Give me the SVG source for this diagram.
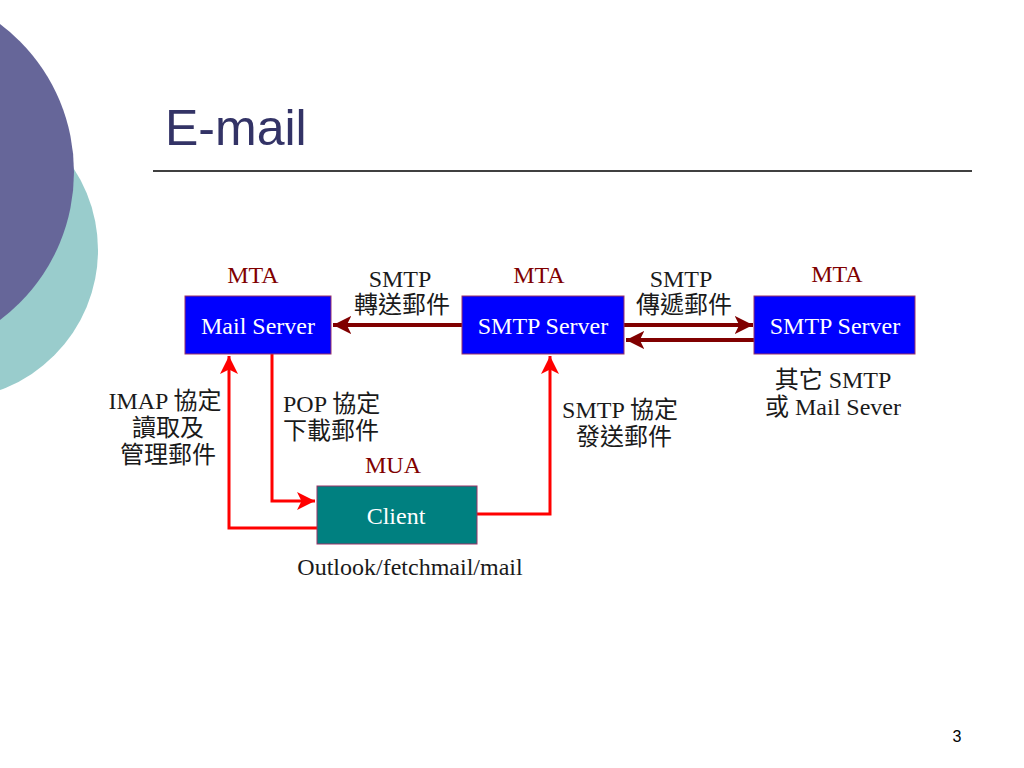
<svg xmlns="http://www.w3.org/2000/svg" width="1024" height="768" viewBox="0 0 1024 768">
<defs>
<style>
.t{font-family:"Liberation Serif","Noto Sans CJK TC",serif;font-size:24px;fill:#1a1a1a}
.c{text-anchor:middle}
.w{fill:#ffffff}
.mta{fill:#800000}
.box{stroke:#993366;stroke-width:1}
.dr{stroke:#800000;stroke-width:4;fill:none}
.rd{stroke:#ff0000;stroke-width:3;fill:none}
</style>
<marker id="ad" viewBox="0 0 10 10" refX="10" refY="5" markerWidth="4.6" markerHeight="4.6" orient="auto" markerUnits="strokeWidth">
<path d="M0,0 L10,5 L0,10 L2.5,5 Z" fill="#800000"/>
</marker>
<marker id="ar" viewBox="0 0 10 10" refX="10" refY="5" markerWidth="6" markerHeight="6" orient="auto" markerUnits="strokeWidth">
<path d="M0,0 L10,5 L0,10 L2.5,5 Z" fill="#ff0000"/>
</marker>
</defs>
<rect width="1024" height="768" fill="#ffffff"/>
<g id="decor">
<circle cx="-51" cy="250" r="149" fill="#99cccc"/>
<circle cx="-111" cy="172" r="185" fill="#666699"/>
</g>
<g id="title">
<text x="165" y="145" font-family="'Liberation Sans',Arial,sans-serif" font-size="50" fill="#333366">E-mail</text>
<line x1="153" y1="171" x2="972" y2="171" stroke="#000" stroke-width="1.5"/>
</g>
<g id="connectors">
<line class="dr" x1="462" y1="325" x2="333" y2="325" marker-end="url(#ad)"/>
<line class="dr" x1="624" y1="325" x2="753" y2="325" marker-end="url(#ad)"/>
<line class="dr" x1="754" y1="340" x2="626" y2="340" marker-end="url(#ad)"/>
<polyline class="rd" points="317,528 229,528 229,356" marker-end="url(#ar)"/>
<polyline class="rd" points="272,354 272,501 315,501" marker-end="url(#ar)"/>
<polyline class="rd" points="477,514 550,514 550,356" marker-end="url(#ar)"/>
</g>
<g id="mailserver">
<text class="t c mta" x="253" y="283">MTA</text>
<rect class="box" x="185" y="296" width="146" height="58" fill="#0000ff"/>
<text class="t c w" x="258" y="334">Mail Server</text>
</g>
<g id="smtpserver1">
<text class="t c mta" x="539" y="283">MTA</text>
<rect class="box" x="462" y="296" width="162" height="58" fill="#0000ff"/>
<text class="t c w" x="543" y="334">SMTP Server</text>
</g>
<g id="smtpserver2">
<text class="t c mta" x="837" y="282">MTA</text>
<rect class="box" x="754" y="296" width="161" height="58" fill="#0000ff"/>
<text class="t c w" x="835" y="334">SMTP Server</text>
<text class="t c" x="833" y="388">其它 SMTP</text>
<text class="t c" x="833" y="415">或 Mail Sever</text>
</g>
<g id="client">
<text class="t c mta" x="393" y="473">MUA</text>
<rect class="box" x="317" y="486" width="160" height="58" fill="#008080"/>
<text class="t c w" x="396" y="524">Client</text>
<text class="t c" x="410" y="575">Outlook/fetchmail/mail</text>
</g>
<g id="labels">
<text class="t c" x="400" y="287">SMTP</text>
<text class="t c" x="402" y="313">轉送郵件</text>
<text class="t c" x="681" y="287">SMTP</text>
<text class="t c" x="684" y="313">傳遞郵件</text>
<text class="t c" x="165" y="409">IMAP 協定</text>
<text class="t c" x="168" y="436">讀取及</text>
<text class="t c" x="168" y="463">管理郵件</text>
<text class="t" x="283" y="412">POP 協定</text>
<text class="t" x="283" y="439">下載郵件</text>
<text class="t c" x="620" y="418">SMTP 協定</text>
<text class="t c" x="624" y="445">發送郵件</text>
</g>
<text x="957" y="742" font-family="'Liberation Sans',Arial,sans-serif" font-size="16" fill="#000" text-anchor="middle">3</text>
</svg>
